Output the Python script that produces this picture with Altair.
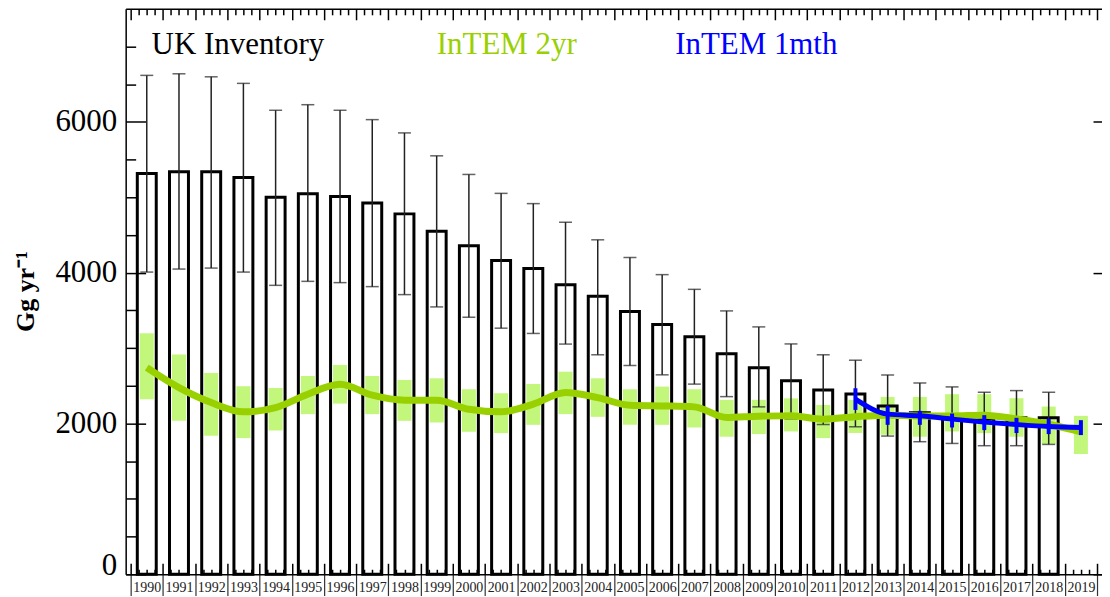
import altair as alt
import pandas as pd

# ---------------- data ----------------
years = list(range(1990, 2020))
inv_years = list(range(1990, 2019))
inventory = [5316, 5339, 5339, 5264, 4999, 5048, 5012, 4925, 4780, 4550,
             4357, 4163, 4057, 3841, 3687, 3485, 3313, 3149, 2924, 2740,
             2568, 2443, 2390, 2233, 2141, 2118, 2062, 2075, 2075]
inventory_hi = [6617, 6638, 6598, 6511, 6154, 6228, 6154, 6030, 5854, 5550,
                5303, 5052, 4916, 4669, 4436, 4202, 3974, 3779, 3493, 3281,
                3055, 2911, 2839, 2643, 2537, 2485, 2414, 2436, 2414]
inventory_lo = [4008, 4048, 4061, 4008, 3832, 3885, 3868, 3815, 3709, 3546,
                3409, 3264, 3194, 3053, 2911, 2768, 2645, 2522, 2356, 2220,
                2062, 1986, 1956, 1833, 1758, 1735, 1705, 1705, 1722]

intem2yr = [2740, 2475, 2277, 2154, 2211, 2388, 2520, 2375, 2309, 2309,
            2189, 2154, 2256, 2410, 2343, 2242, 2233, 2220, 2079, 2097,
            2101, 2057, 2090, 2110, 2100, 2100, 2110, 2060, 1990, 1890]
intem2yr_hi = [3198, 2916, 2670, 2494, 2471, 2630, 2775, 2630, 2577, 2599,
               2454, 2401, 2524, 2687, 2599, 2454, 2489, 2454, 2313, 2313,
               2333, 2245, 2313, 2352, 2352, 2388, 2388, 2335, 2224, 2101]
intem2yr_lo = [2322, 2035, 1837, 1806, 1907, 2124, 2264, 2124, 2035, 2013,
               1890, 1872, 1982, 2124, 2088, 1982, 1982, 1947, 1824, 1859,
               1894, 1806, 1874, 1850, 1824, 1894, 1872, 1824, 1727, 1595]

mth_years = list(range(2012, 2020))
intem1mth = [2322, 2124, 2101, 2058, 2018, 1986, 1960, 1947]
intem1mth_hi = [2467, 2233, 2167, 2132, 2110, 2075, 2062, 2044]
intem1mth_lo = [2180, 1982, 1982, 1947, 1912, 1873, 1859, 1846]

series_names = ["UK Inventory", "InTEM 2yr", "InTEM 1mth"]
y_major = [0, 2000, 4000, 6000]
y_title = "Gg yr\u207b\u00b9"

# ---------------- tables ----------------
inv_df = pd.DataFrame({"year": inv_years, "v": inventory, "hi": inventory_hi, "lo": inventory_lo})
g_df = pd.DataFrame({"year": years, "v": intem2yr, "hi": intem2yr_hi, "lo": intem2yr_lo})
b_df = pd.DataFrame({"year": mth_years, "v": intem1mth, "hi": intem1mth_hi, "lo": intem1mth_lo})

# ---------------- styles ----------------
SERIF = "Liberation Serif"
GREEN = "#99d000"
LIGHT_GREEN = "#c3f77b"
BLUE = "#0000ff"
ERR = "#222222"

xs = alt.Scale(domain=[years[0] - 0.5, years[-1] + 0.5], nice=False, zero=False)
ys = alt.Scale(domain=[0, 7500], nice=False, zero=False)

bounds = [y - 0.5 for y in years] + [years[-1] + 0.5]
quarters = [y + d for y in years for d in (-0.25, 0.0, 0.25)]
y_minor = [v for v in range(500, 7500, 500) if v % 2000 != 0]


def tick_axis(orient, values, size, offset, width=1.5, color="black"):
    return alt.Axis(orient=orient, values=values, tickSize=size, offset=offset,
                    tickWidth=width, tickColor=color, labels=False,
                    domain=False, grid=False)


ax_bottom_frame = alt.Axis(orient="bottom", values=bounds, tickSize=23, tickWidth=1.2,
                           tickColor="#333333", labels=False, domain=True,
                           domainColor="black", domainWidth=1.5, grid=False)
ax_bottom_labels = alt.Axis(orient="bottom", values=years, ticks=False, tickSize=0,
                            domain=False, grid=False, format="d",
                            labelFont=SERIF, labelFontSize=14, labelColor="#222222",
                            labelPadding=6, labelFlush=False, labelOverlap=False)
ax_bottom_major = tick_axis("bottom", bounds, 11, -11)
ax_bottom_minor = tick_axis("bottom", quarters, 5, -5)
ax_top_frame = alt.Axis(orient="top", ticks=False, labels=False, domain=True,
                        domainColor="black", domainWidth=1.5, grid=False)
ax_top_major = tick_axis("top", bounds, 11, -11)
ax_top_minor = tick_axis("top", quarters, 6, -6)

ax_left_labels = alt.Axis(
    orient="left", values=y_major, ticks=False, tickSize=0, domain=True,
    domainColor="black", domainWidth=1.5, grid=False, format="d",
    labelFont=SERIF, labelFontSize=31, labelColor="black", labelPadding=9,
    labelOverlap=False, labelFlush=False,
    labelBaseline={"condition": {"test": "datum.value == 0", "value": "alphabetic"},
                   "value": "middle"},
    title=y_title, titleFont=SERIF, titleFontWeight="bold", titleFontSize=26,
    titleColor="black", titleAngle=270, titleX=-100, titleY=283,
    titleAlign="center", titleBaseline="middle",
)
ax_left_major = tick_axis("left", y_major, 20, -20)
ax_left_minor = tick_axis("left", y_minor, 10, -10)
ax_right_major = tick_axis("right", y_major, 9, -9)

# ---------------- layers ----------------
g_boxes = alt.Chart(g_df).mark_bar(size=14, color=LIGHT_GREEN).encode(
    x=alt.X("year:Q", scale=xs, title=None, axis=ax_bottom_frame),
    y=alt.Y("lo:Q", scale=ys, title=None, axis=ax_left_major),
    y2="hi:Q",
)

bars = alt.Chart(inv_df).mark_bar(size=19, fillOpacity=0, stroke="black", strokeWidth=3).encode(
    x=alt.X("year:Q", scale=xs, title=None, axis=ax_bottom_labels),
    y=alt.Y("v:Q", scale=ys, axis=ax_left_labels),
)

err = alt.Chart(inv_df).mark_rule(color=ERR, strokeWidth=1.5).encode(
    x=alt.X("year:Q", scale=xs, title=None, axis=ax_bottom_major),
    y=alt.Y("lo:Q", scale=ys, title=None, axis=ax_left_minor),
    y2="hi:Q",
)

caps = alt.Chart(inv_df).transform_fold(["lo", "hi"], as_=["k", "val"]).mark_tick(
    orient="horizontal", size=13, thickness=1.5, color=ERR
).encode(
    x=alt.X("year:Q", scale=xs, title=None, axis=ax_bottom_minor),
    y=alt.Y("val:Q", scale=ys, title=None, axis=ax_right_major),
)

g_line = alt.Chart(g_df).mark_line(color=GREEN, strokeWidth=7, interpolate="monotone").encode(
    x=alt.X("year:Q", scale=xs, title=None, axis=ax_top_frame),
    y=alt.Y("v:Q", scale=ys, title=None, axis=None),
)

b_line = alt.Chart(b_df).mark_line(color=BLUE, strokeWidth=5, interpolate="monotone").encode(
    x=alt.X("year:Q", scale=xs, title=None, axis=ax_top_major),
    y=alt.Y("v:Q", scale=ys, title=None, axis=None),
)

b_err = alt.Chart(b_df).mark_rule(color=BLUE, strokeWidth=4).encode(
    x=alt.X("year:Q", scale=xs, title=None, axis=ax_top_minor),
    y=alt.Y("lo:Q", scale=ys, title=None, axis=None),
    y2="hi:Q",
)

legend_colors = ["black", GREEN, BLUE]
legend_x = [26, 312, 551]
texts = []
for name, col, px in zip(series_names, legend_colors, legend_x):
    texts.append(
        alt.Chart(pd.DataFrame({"t": [name]})).mark_text(
            align="left", baseline="alphabetic", font=SERIF, fontSize=31, color=col
        ).encode(text="t:N", x=alt.value(px), y=alt.value(45))
    )

chart = alt.layer(g_boxes, bars, err, caps, g_line, b_line, b_err, *texts).resolve_axis(
    x="independent", y="independent"
).properties(
    width=979, height=567,
    autosize=alt.AutoSizeParams(type="none"),
    padding={"left": 118, "top": 0, "right": 0, "bottom": 21},
    background="white",
).configure_view(strokeWidth=0)

chart.save("out.html", embed_options={"renderer": "svg", "actions": False})
